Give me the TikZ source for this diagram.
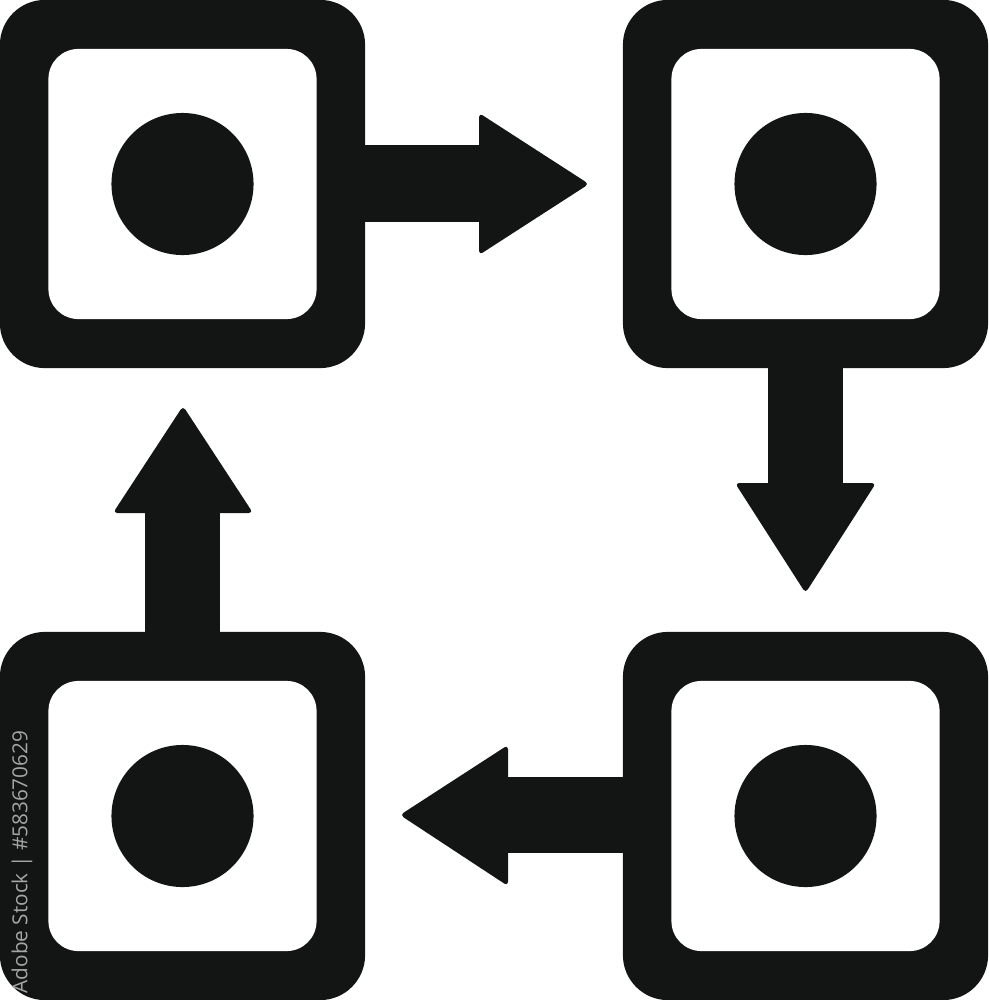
\documentclass[tikz,border=0pt]{standalone}
\usepackage{fontspec}
\newfontfamily\wmfont{Open Sans}
\definecolor{ink}{RGB}{19,21,20}
\definecolor{wm}{RGB}{165,165,165}
\tikzset{
  outerbox/.style={rectangle, fill=ink, minimum width=3.65cm, minimum height=3.68cm, rounded corners=0.45cm, inner sep=0pt},
  innerbox/.style={rectangle, fill=white, minimum width=2.68cm, minimum height=2.70cm, rounded corners=0.30cm, inner sep=0pt},
  dot/.style={circle, fill=ink, minimum size=1.42cm, inner sep=0pt},
  shaft/.style={fill=ink},
  head/.style={fill=ink, rounded corners=1.2pt},
}
\begin{document}
\begin{tikzpicture}[x=0.01cm,y=-0.01cm]
\useasboundingbox (0,0) rectangle (989,1000);
% boxes
\foreach \n/\cx/\cy in {tl/182.5/184, tr/805.5/184, bl/182.5/816, br/805.5/816}{
  \node[outerbox] (\n) at (\cx,\cy) {};
  \node[innerbox] (\n-in) at (\cx,\cy) {};
  \node[dot] (\n-dot) at (\cx,\cy) {};
}
% arrow tips
\coordinate (tipR) at (589,184);
\coordinate (tipD) at (805.5,593);
\coordinate (tipL) at (400,815);
\coordinate (tipU) at (183,406);
% top arrow: tl -> tr
\fill[shaft] (tl.east |- 0,145) ++(-5,0) rectangle (481,222);
\fill[head] (479,113) -- (tipR) -- (479,255) -- cycle;
% right arrow: tr -> br
\fill[shaft] (768,0 |- tr.south) ++(0,-5) rectangle (843,485);
\fill[head] (735,483) -- (876,483) -- (tipD) -- cycle;
% bottom arrow: br -> bl
\fill[shaft] (br.west |- 0,777) ++(5,0) rectangle (506,853);
\fill[head] (508,745) -- (tipL) -- (508,886) -- cycle;
% left arrow: bl -> tl
\fill[shaft] (145,0 |- bl.north) ++(0,5) rectangle (220,511);
\fill[head] (113,513) -- (tipU) -- (253,513) -- cycle;
% stock id
\node[rotate=90, text=wm, font=\wmfont\fontsize{5.9}{7}\selectfont, inner sep=0pt] (wmark) at (22,862) {Adobe Stock | \#583670629};
\end{tikzpicture}
\end{document}
